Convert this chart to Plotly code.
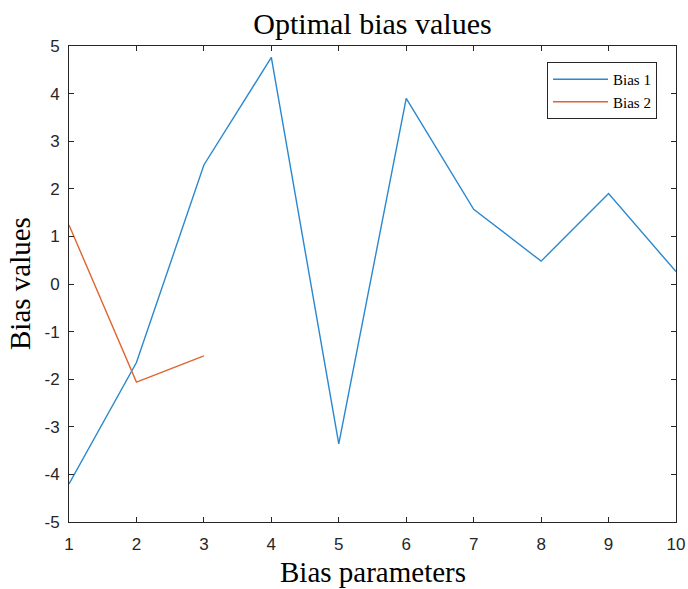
import plotly.graph_objects as go

# Bias parameter indices and optimal bias values
params_1 = [1, 2, 3, 4, 5, 6, 7, 8, 9, 10]
bias_1 = [-4.2, -1.65, 2.5, 4.76, -3.36, 3.9, 1.57, 0.48, 1.9, 0.26]
params_2 = [1, 2, 3]
bias_2 = [1.24, -2.06, -1.51]

x_ticks = list(range(1, 11))
y_ticks = list(range(-5, 6))

AXIS_COLOR = "#262626"
SERIF = "Liberation Serif, Times New Roman, serif"
SANS = "Liberation Sans, Arial, Helvetica, sans-serif"

fig = go.Figure()
fig.add_trace(go.Scatter(x=params_1, y=bias_1, mode="lines", name="Bias 1",
                         line=dict(color="#2a88cf", width=1.4)))
fig.add_trace(go.Scatter(x=params_2, y=bias_2, mode="lines", name="Bias 2",
                         line=dict(color="#e0652f", width=1.4)))

axis_common = dict(
    showgrid=False, zeroline=False, showline=True, linecolor=AXIS_COLOR, linewidth=1,
    mirror="ticks", ticks="inside", ticklen=5, tickcolor=AXIS_COLOR, tickwidth=1,
    tickfont=dict(family=SANS, size=17, color=AXIS_COLOR), automargin=False,
)

# plot area spans x 69..676 px and y 46..522 px
fig.update_layout(
    width=688, height=589,
    margin=dict(l=69, r=12, t=46, b=67),
    paper_bgcolor="white", plot_bgcolor="white",
    title=dict(text="Optimal bias values", xref="paper", x=0.5, xanchor="center",
               y=1 - 23 / 589, yanchor="middle",
               font=dict(family=SERIF, size=30, color="black")),
    xaxis=dict(range=[1, 10], tickvals=x_ticks, ticktext=[str(v) for v in x_ticks],
               ticklabelstandoff=7, **axis_common),
    yaxis=dict(range=[-5, 5], tickvals=y_ticks, ticktext=[str(v) for v in y_ticks],
               ticklabelstandoff=5, **axis_common),
    showlegend=True,
    legend=dict(x=(547 - 69) / 607, y=1 - (62 - 46) / 476, xanchor="left", yanchor="top",
                bgcolor="white", bordercolor=AXIS_COLOR, borderwidth=1,
                font=dict(family=SERIF, size=15, color="black"),
                tracegroupgap=0, itemwidth=55),
    annotations=[
        dict(text="Bias parameters", xref="paper", yref="paper", x=0.5, y=(522 - 572) / 476,
             xanchor="center", yanchor="middle", showarrow=False,
             font=dict(family=SERIF, size=29, color="black")),
        dict(text="Bias values", xref="paper", yref="paper", x=(20 - 69) / 607, y=0.5,
             xanchor="center", yanchor="middle", showarrow=False, textangle=-90,
             font=dict(family=SERIF, size=29, color="black")),
    ],
)

fig.write_html("out.html")
